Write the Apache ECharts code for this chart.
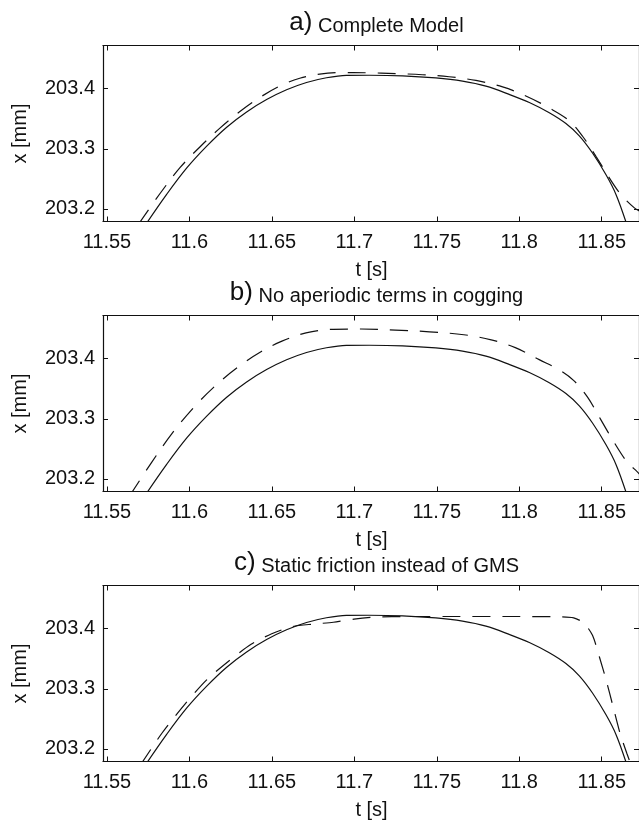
<!DOCTYPE html>
<html><head><meta charset="utf-8">
<script src="https://cdn.jsdelivr.net/npm/echarts@6/dist/echarts.min.js"></script>
<style>html,body{margin:0;padding:0;background:#fff}#c{width:639px;height:822px}</style>
</head><body><div id="c"></div>
<script>
// ---- data ----
const xTicks = [11.55, 11.6, 11.65, 11.7, 11.75, 11.8, 11.85];
const yTicks = [203.2, 203.3, 203.4];
const xRange = [11.5476, 11.8726];
const yRange = [203.179, 203.472];
const panelLetters = ['a)', 'b)', 'c)'];
const panelTitles = ['Complete Model', 'No aperiodic terms in cogging', 'Static friction instead of GMS'];
const xName = 't [s]';
const yName = 'x [mm]';

// measured position (solid, identical in all panels)
const measured = [
  [11.5740, 203.176], [11.5863, 203.2246], [11.5984, 203.2682], [11.6105, 203.3045],
  [11.6226, 203.336], [11.6347, 203.3614], [11.6468, 203.382], [11.6589, 203.3983],
  [11.6710, 203.4104], [11.6831, 203.4183], [11.6952, 203.4223], [11.7090, 203.4225],
  [11.7292, 203.4215], [11.7494, 203.418], [11.7656, 203.4127], [11.7798, 203.4044],
  [11.7939, 203.3906], [11.8061, 203.377], [11.8182, 203.360], [11.8283, 203.342],
  [11.8364, 203.3215], [11.8445, 203.2926], [11.8526, 203.2567], [11.8587, 203.2237],
  [11.8652, 203.174]
];
// a) complete model (dashed)
const simA = [
  [11.5690, 203.174], [11.5823, 203.226], [11.5944, 203.269], [11.6065, 203.3035],
  [11.6185, 203.3345], [11.6306, 203.362], [11.6427, 203.3855], [11.6548, 203.4045],
  [11.6669, 203.4175], [11.6790, 203.4245], [11.6911, 203.427], [11.7073, 203.4266],
  [11.7251, 203.4253], [11.7413, 203.4233], [11.7575, 203.4200], [11.7737, 203.4138],
  [11.7899, 203.4030], [11.8040, 203.3880], [11.8182, 203.3680], [11.8304, 203.3466],
  [11.8385, 203.3205], [11.8466, 203.2871], [11.8547, 203.2512], [11.8617, 203.2237],
  [11.8698, 203.2017], [11.8740, 203.195]
];
// b) no aperiodic terms in cogging (dashed)
const simB = [
  [11.5638, 203.172], [11.5770, 203.2271], [11.5895, 203.2757], [11.6020, 203.3171],
  [11.6145, 203.3520], [11.6291, 203.3855], [11.6436, 203.4120], [11.6561, 203.4293],
  [11.6707, 203.4430], [11.6873, 203.4490], [11.7040, 203.4495], [11.7248, 203.4478],
  [11.7456, 203.4448], [11.7664, 203.4400], [11.7830, 203.4315], [11.7976, 203.4185],
  [11.8121, 203.3985], [11.8246, 203.3810], [11.8329, 203.3641], [11.8413, 203.3365],
  [11.8496, 203.2978], [11.8579, 203.2591], [11.8652, 203.2287], [11.8704, 203.2149],
  [11.8740, 203.205]
];
// c) static friction instead of GMS (dashed)
const simC = [
  [11.5705, 203.174], [11.5833, 203.226], [11.5968, 203.2729], [11.6103, 203.3144],
  [11.6239, 203.3464], [11.6374, 203.374], [11.6499, 203.3917], [11.6624, 203.4035],
  [11.6748, 203.4077], [11.6873, 203.4108], [11.6998, 203.416], [11.7123, 203.4193],
  [11.7331, 203.4204], [11.7643, 203.4204], [11.7955, 203.4204], [11.8247, 203.4199],
  [11.8330, 203.4182], [11.8392, 203.4094], [11.8444, 203.389], [11.8486, 203.353],
  [11.8527, 203.3144], [11.8569, 203.2702], [11.8611, 203.226], [11.8652, 203.1928],
  [11.8680, 203.172]
];
const simulated = [simA, simB, simC];

// ---- layout / style ----
const FONT = '"Liberation Sans", Arial, Helvetica, sans-serif';
const INK = '#111';
const gridLeft = 103, gridWidth = 538, gridHeight = 176;
const gridTops = [45.5, 315.5, 585.5];

const grids = [], xAxes = [], yAxes = [], series = [], graphics = [];
const lineAxis = { show: true, lineStyle: { color: INK, width: 1.2 } };

gridTops.forEach((top, i) => {
  grids.push({ left: gridLeft, top: top, width: gridWidth, height: gridHeight, containLabel: false });
  const tickCommon = { show: true, inside: true, length: 5, lineStyle: { color: INK, width: 1 } };
  xAxes.push({
    gridIndex: i, type: 'value', position: 'bottom', min: xRange[0], max: xRange[1],
    axisLine: lineAxis, splitLine: { show: false },
    axisTick: Object.assign({ customValues: xTicks }, tickCommon),
    axisLabel: { customValues: xTicks, color: INK, fontSize: 20, fontFamily: FONT, margin: 11 }
  });
  xAxes.push({
    gridIndex: i, type: 'value', position: 'top', min: xRange[0], max: xRange[1],
    axisLine: lineAxis, splitLine: { show: false },
    axisTick: Object.assign({ customValues: xTicks }, tickCommon),
    axisLabel: { show: false }
  });
  yAxes.push({
    gridIndex: i, type: 'value', position: 'left', min: yRange[0], max: yRange[1],
    axisLine: lineAxis, splitLine: { show: false },
    axisTick: Object.assign({ customValues: yTicks }, tickCommon),
    axisLabel: { customValues: yTicks, color: INK, fontSize: 20, fontFamily: FONT, margin: 8,
      formatter: v => v.toFixed(1) }
  });
  yAxes.push({
    gridIndex: i, type: 'value', position: 'right', min: yRange[0], max: yRange[1],
    axisLine: lineAxis, splitLine: { show: false },
    axisTick: Object.assign({ customValues: yTicks }, tickCommon),
    axisLabel: { show: false }
  });
  series.push({
    type: 'line', xAxisIndex: 2 * i, yAxisIndex: 2 * i, data: measured,
    showSymbol: false, smooth: 0.35, clip: true,
    lineStyle: { color: INK, width: 1.2, type: 'solid' }
  });
  series.push({
    type: 'line', xAxisIndex: 2 * i, yAxisIndex: 2 * i, data: simulated[i],
    showSymbol: false, smooth: i === 2 ? 0.25 : 0.35, clip: true,
    lineStyle: { color: INK, width: 1.2, type: [18, 12] }
  });
  // title
  graphics.push({
    type: 'text', x: 376.5, y: top - 9.5,
    style: {
      text: '{l|' + panelLetters[i] + '}{t| ' + panelTitles[i] + '}',
      textAlign: 'center', textVerticalAlign: 'bottom', fill: INK,
      rich: {
        l: { fontSize: 26, fontFamily: FONT, fill: INK, verticalAlign: 'bottom' },
        t: { fontSize: 20, fontFamily: FONT, fill: INK, verticalAlign: 'bottom' }
      }
    }
  });
  // axis names
  graphics.push({
    type: 'text', x: 20, y: top + gridHeight / 2, rotation: Math.PI / 2,
    style: { text: yName, fontSize: 20, fontFamily: FONT, fill: INK,
      textAlign: 'center', textVerticalAlign: 'middle' }
  });
  graphics.push({
    type: 'text', x: 371.5, y: top + gridHeight + 49,
    style: { text: xName, fontSize: 20, fontFamily: FONT, fill: INK,
      textAlign: 'center', textVerticalAlign: 'middle' }
  });
});

const chart = echarts.init(document.getElementById('c'), null, { renderer: 'canvas' });
chart.setOption({
  animation: false,
  backgroundColor: '#fff',
  grid: grids, xAxis: xAxes, yAxis: yAxes, series: series,
  graphic: graphics
});
</script>
</body></html>
